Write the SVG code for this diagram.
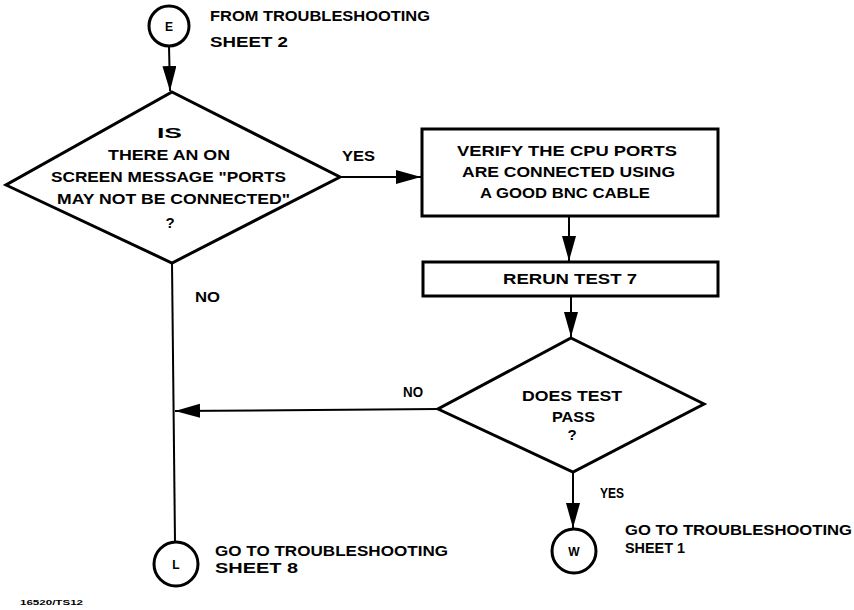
<svg xmlns="http://www.w3.org/2000/svg" width="854" height="610" viewBox="0 0 854 610">
<style>
.shape{fill:none;stroke:#000;stroke-width:3;stroke-linejoin:miter}
.conn{fill:none;stroke:#000;stroke-width:2}
.head{fill:#000;stroke:none}
text{font-family:"Liberation Sans","DejaVu Sans",Arial,sans-serif;font-weight:bold;font-size:15px;fill:#000}
.small{font-size:8px}
.lbl{font-size:12px}
</style>
<rect width="854" height="610" fill="#fff"/>
<defs>
<marker id="ah" markerUnits="userSpaceOnUse" markerWidth="26" markerHeight="16" refX="25" refY="7" orient="auto">
<path d="M0,0 L25,7 L0,14 Z" class="head"/>
</marker>
</defs>
<g id="connectors">
<line class="conn" x1="169" y1="46" x2="170" y2="91" marker-end="url(#ah)"/>
<line class="conn" x1="340" y1="177" x2="421" y2="177" marker-end="url(#ah)"/>
<line class="conn" x1="569" y1="216" x2="569" y2="261" marker-end="url(#ah)"/>
<line class="conn" x1="571" y1="296" x2="571" y2="337" marker-end="url(#ah)"/>
<line class="conn" x1="573" y1="472" x2="573" y2="528" marker-end="url(#ah)"/>
<line class="conn" x1="172" y1="263" x2="175" y2="542"/>
<line class="conn" x1="438" y1="409" x2="175" y2="411" marker-end="url(#ah)"/>
<text x="342" y="161" textLength="33" lengthAdjust="spacingAndGlyphs">YES</text>
<text x="195" y="302" textLength="25" lengthAdjust="spacingAndGlyphs">NO</text>
<text x="403" y="397" textLength="20" lengthAdjust="spacingAndGlyphs">NO</text>
<text x="600" y="498" textLength="24" lengthAdjust="spacingAndGlyphs">YES</text>
</g>
<g id="nodeE">
<circle class="shape" cx="169" cy="26" r="20"/>
<text class="lbl" x="169" y="31" text-anchor="middle">E</text>
<text x="210" y="21" textLength="220" lengthAdjust="spacingAndGlyphs">FROM TROUBLESHOOTING</text>
<text x="210" y="47" textLength="78" lengthAdjust="spacingAndGlyphs">SHEET 2</text>
</g>
<g id="decision1">
<polygon class="shape" points="172,92 340,177 172,263 6,185"/>
<text x="157" y="138" textLength="25" lengthAdjust="spacingAndGlyphs">IS</text>
<text x="108" y="160" textLength="122" lengthAdjust="spacingAndGlyphs">THERE AN ON</text>
<text x="51" y="182" textLength="235" lengthAdjust="spacingAndGlyphs">SCREEN MESSAGE "PORTS</text>
<text x="57" y="204" textLength="233" lengthAdjust="spacingAndGlyphs">MAY NOT BE CONNECTED"</text>
<text x="170" y="228" text-anchor="middle">?</text>
</g>
<g id="verify">
<rect class="shape" x="422" y="129" width="296" height="87"/>
<text x="457" y="156" textLength="220" lengthAdjust="spacingAndGlyphs">VERIFY THE CPU PORTS</text>
<text x="462" y="177" textLength="213" lengthAdjust="spacingAndGlyphs">ARE CONNECTED USING</text>
<text x="480" y="198" textLength="170" lengthAdjust="spacingAndGlyphs">A GOOD BNC CABLE</text>
</g>
<g id="rerun">
<rect class="shape" x="423" y="262" width="295" height="34"/>
<text x="503" y="284" textLength="134" lengthAdjust="spacingAndGlyphs">RERUN TEST 7</text>
</g>
<g id="decision2">
<polygon class="shape" points="571,338 704,404 573,472 438,409"/>
<text x="522" y="401" textLength="100" lengthAdjust="spacingAndGlyphs">DOES TEST</text>
<text x="552" y="422" textLength="43" lengthAdjust="spacingAndGlyphs">PASS</text>
<text x="572" y="440" text-anchor="middle">?</text>
</g>
<g id="nodeL">
<circle class="shape" cx="176" cy="564" r="22"/>
<text class="lbl" x="176" y="569" text-anchor="middle">L</text>
<text x="215" y="556" textLength="233" lengthAdjust="spacingAndGlyphs">GO TO TROUBLESHOOTING</text>
<text x="215" y="573" textLength="83" lengthAdjust="spacingAndGlyphs">SHEET 8</text>
</g>
<g id="nodeW">
<circle class="shape" cx="574" cy="551" r="22"/>
<text class="lbl" x="574" y="556" text-anchor="middle">W</text>
<text x="625" y="535" textLength="227" lengthAdjust="spacingAndGlyphs">GO TO TROUBLESHOOTING</text>
<text x="625" y="553" textLength="60" lengthAdjust="spacingAndGlyphs">SHEET 1</text>
</g>
<text class="small" x="20" y="605" textLength="63" lengthAdjust="spacingAndGlyphs">16520/TS12</text>
</svg>
